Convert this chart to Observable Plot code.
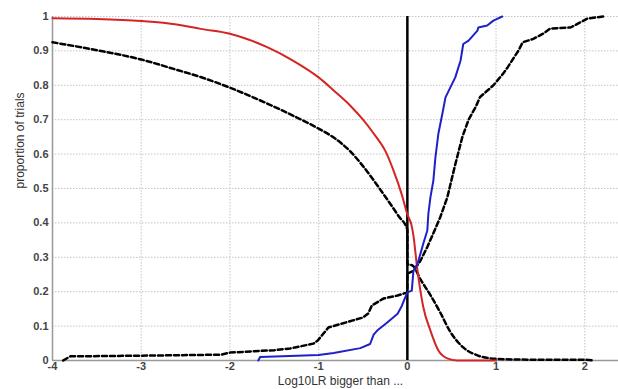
<!DOCTYPE html>
<html><head><meta charset="utf-8">
<script src="https://cdn.jsdelivr.net/npm/d3@7"></script>
<script src="https://cdn.jsdelivr.net/npm/@observablehq/plot@0.6"></script>
<style>body{margin:0;background:#fff}</style>
</head><body><div id="chart"></div>
<script>
const xTicks = [-4, -3, -2, -1, 0, 1, 2];
const yTicks = [0, 0.1, 0.2, 0.3, 0.4, 0.5, 0.6, 0.7, 0.8, 0.9, 1];

const redX = [-4, -3.5, -3, -2.6, -2.33, -2, -1.8, -1.58, -1.29, -1, -0.83, -0.64, -0.5, -0.38, -0.25, -0.16, -0.06, 0, 0.05, 0.07, 0.11, 0.18, 0.26, 0.35, 0.45, 0.56, 1.0];
const redY = [0.995, 0.993, 0.987, 0.977, 0.964, 0.95, 0.934, 0.911, 0.872, 0.823, 0.785, 0.74, 0.70, 0.66, 0.61, 0.555, 0.48, 0.425, 0.39, 0.36, 0.27, 0.155, 0.087, 0.029, 0.006, 0, 0];

const blueX = [-1.68, -1.66, -1.0, -0.83, -0.53, -0.42, -0.38, -0.34, -0.23, -0.11, -0.06, -0.03, 0, 0.05, 0.068, 0.113, 0.147, 0.18, 0.225, 0.237, 0.26, 0.293, 0.316, 0.35, 0.395, 0.43, 0.485, 0.54, 0.6, 0.63, 0.69, 0.79, 0.8, 0.9, 0.97, 1.07];
const blueY = [0, 0.01, 0.016, 0.022, 0.036, 0.048, 0.075, 0.087, 0.11, 0.136, 0.16, 0.18, 0.198, 0.203, 0.26, 0.28, 0.31, 0.34, 0.378, 0.427, 0.474, 0.523, 0.59, 0.66, 0.718, 0.765, 0.794, 0.823, 0.872, 0.92, 0.93, 0.959, 0.968, 0.974, 0.988, 1.0];

const dashDownX = [-4, -3.5, -3, -2.6, -2.33, -2, -1.58, -1.29, -1, -0.83, -0.64, -0.5, -0.3, -0.1, 0, 0.001, 0.06, 0.15, 0.26, 0.37, 0.48, 0.63, 0.79, 0.94, 1.2, 1.6, 2.0, 2.1];
const dashDownY = [0.925, 0.902, 0.875, 0.845, 0.824, 0.793, 0.747, 0.712, 0.674, 0.648, 0.607, 0.565, 0.495, 0.42, 0.38, 0.28, 0.276, 0.235, 0.19, 0.14, 0.085, 0.038, 0.015, 0.006, 0.003, 0.002, 0.002, 0];

const dashUpX = [-3.88, -3.8, -3, -2.1, -2.0, -1.5, -1.32, -1.06, -1.01, -0.89, -0.5, -0.44, -0.4, -0.27, -0.11, 0, 0.001, 0.068, 0.147, 0.225, 0.293, 0.37, 0.45, 0.54, 0.62, 0.69, 0.77, 0.82, 0.97, 1.08, 1.13, 1.2, 1.25, 1.3, 1.42, 1.53, 1.61, 1.84, 1.95, 2.03, 2.21];
const dashUpY = [0, 0.012, 0.014, 0.017, 0.023, 0.03, 0.035, 0.049, 0.058, 0.096, 0.125, 0.137, 0.16, 0.18, 0.189, 0.198, 0.253, 0.26, 0.29, 0.33, 0.37, 0.416, 0.474, 0.57, 0.65, 0.70, 0.737, 0.766, 0.80, 0.834, 0.852, 0.88, 0.90, 0.925, 0.935, 0.95, 0.965, 0.968, 0.983, 0.994, 1.0];

const xLabel = "Log10LR bigger than ...";
const yLabel = "proportion of trials";

const pts = (xs, ys) => xs.map((x, i) => ({x, y: ys[i]}));

const chart = Plot.plot({
  width: 618, height: 389,
  marginLeft: 52, marginRight: 0, marginTop: 16, marginBottom: 29,
  x: {domain: [-4, 2.38]},
  y: {domain: [0, 1]},
  style: {fontFamily: "'Liberation Sans', Arial, sans-serif", fontSize: "11px", background: "white", overflow: "visible"},
  marks: [
    Plot.gridX(xTicks, {stroke: "#c4c4c4", strokeOpacity: 1, strokeDasharray: "1.5,1.5"}),
    Plot.gridY(yTicks, {stroke: "#c4c4c4", strokeOpacity: 1, strokeDasharray: "1.5,1.5"}),
    Plot.ruleX([-4], {stroke: "#999", strokeWidth: 1.5}),
    Plot.ruleY([0], {stroke: "#999", strokeWidth: 1.5}),
    Plot.axisX(xTicks, {tickSize: 0, tickPadding: 2, tickFormat: d => String(d), fontWeight: "bold", color: "#444", label: null}),
    Plot.axisY(yTicks, {tickSize: 0, tickPadding: 4, tickFormat: d => String(+d.toFixed(1)), fontWeight: "bold", color: "#444", label: null}),
    Plot.ruleX([0], {y1: 0, y2: 1, stroke: "black", strokeWidth: 2.5}),
    Plot.line(pts(dashDownX, dashDownY), {x: "x", y: "y", stroke: "black", strokeWidth: 2.5, strokeDasharray: "5,3", curve: "monotone-x"}),
    Plot.line(pts(dashUpX, dashUpY), {x: "x", y: "y", stroke: "black", strokeWidth: 2.5, strokeDasharray: "5,3"}),
    Plot.line(pts(redX, redY), {x: "x", y: "y", stroke: "#d42424", strokeWidth: 2, curve: "monotone-x"}),
    Plot.line(pts(blueX, blueY), {x: "x", y: "y", stroke: "#2020c8", strokeWidth: 2}),
    Plot.text([xLabel], {frameAnchor: "bottom", dx: 5, dy: 24, fontSize: 12, fill: "#333"}),
    Plot.text([yLabel], {frameAnchor: "left", dx: -32, rotate: -90, fontSize: 12, fill: "#333"})
  ]
});
document.getElementById("chart").appendChild(chart);
</script>
</body></html>
